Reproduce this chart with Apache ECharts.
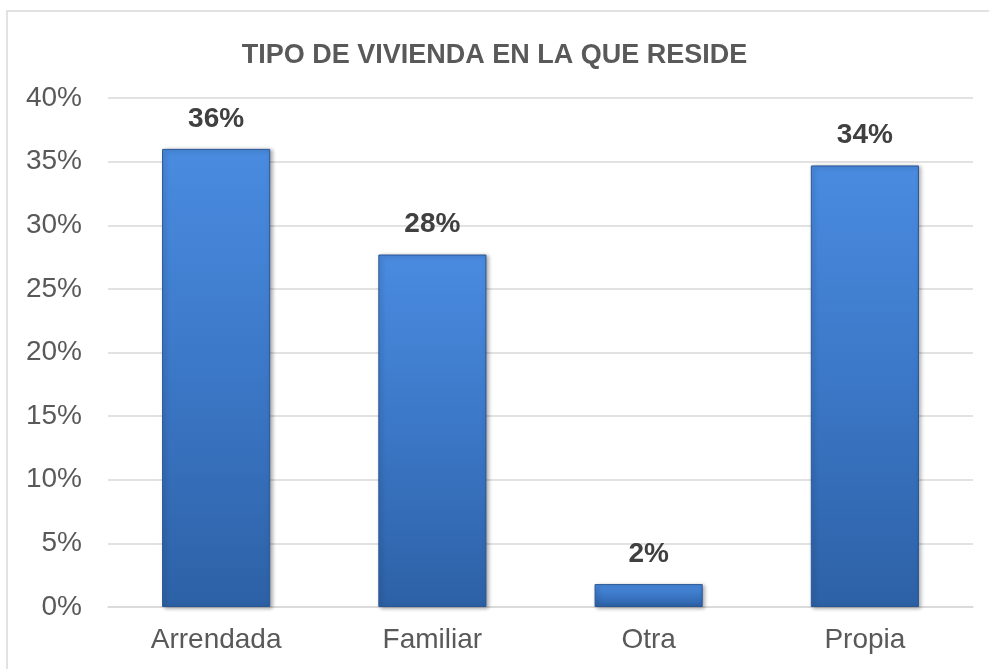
<!DOCTYPE html>
<html>
<head>
    <meta charset="utf-8">
    <script src="https://cdn.jsdelivr.net/npm/echarts@6/dist/echarts.min.js"></script>
    <style>
        html, body { margin: 0; padding: 0; background: #fff; }
    </style>
</head>
<body>
<div id="main" style="width: 989px;height:669px;"></div>
<script type="text/javascript">

    var categorias = ['Arrendada', 'Familiar', 'Otra', 'Propia'];
    var valores = [36, 27.7, 1.8, 34.7];
    var etiquetas = ['36%', '28%', '2%', '34%'];

    var myChart = echarts.init(document.getElementById('main'));

    var option = {
        animation: false,
        title: {
            text: 'TIPO DE VIVIENDA EN LA QUE RESIDE',
            left: 'center',
            top: 37,
            textStyle: {
                fontFamily: 'Liberation Sans, Arial',
                fontSize: 27,
                fontWeight: 'bold',
                color: '#595959'
            }
        },
        graphic: [{
            type: 'rect',
            shape: { x: 7, y: 11, width: 1000, height: 700 },
            style: { fill: 'none', stroke: '#d9d9d9', lineWidth: 1.5 },
            silent: true
        }],
        grid: {
            left: 108,
            right: 16,
            top: 98,
            bottom: 62
        },
        xAxis: {
            type: 'category',
            data: categorias,
            axisTick: { show: false },
            axisLine: { lineStyle: { color: '#d9d9d9', width: 1.5 } },
            axisLabel: {
                margin: 19,
                fontFamily: 'Liberation Sans, Arial',
                fontSize: 28,
                color: '#595959'
            }
        },
        yAxis: {
            type: 'value',
            min: 0,
            max: 40,
            interval: 5,
            axisLine: { show: false },
            axisTick: { show: false },
            splitLine: { lineStyle: { color: '#d9d9d9', width: 1.5 } },
            axisLabel: {
                margin: 26,
                fontFamily: 'Liberation Sans, Arial',
                fontSize: 28,
                color: '#595959',
                formatter: '{value}%'
            }
        },
        series: [{
            type: 'bar',
            barWidth: '50%',
            data: valores,
            itemStyle: {
                color: new echarts.graphic.LinearGradient(0, 0, 0, 1, [
                    { offset: 0, color: '#4a8be0' },
                    { offset: 0.5, color: '#3b77c6' },
                    { offset: 1, color: '#2d61a6' }
                ]),
                borderColor: '#2a5896',
                borderWidth: 1,
                shadowColor: 'rgba(0,0,0,0.35)',
                shadowBlur: 4,
                shadowOffsetX: 2,
                shadowOffsetY: 1
            },
            label: {
                show: true,
                position: 'top',
                distance: 16,
                fontFamily: 'Liberation Sans, Arial',
                fontSize: 28,
                fontWeight: 'bold',
                color: '#404040',
                formatter: function (p) { return etiquetas[p.dataIndex]; }
            }
        }]
    };

    myChart.setOption(option);

</script>
</body>
</html>
